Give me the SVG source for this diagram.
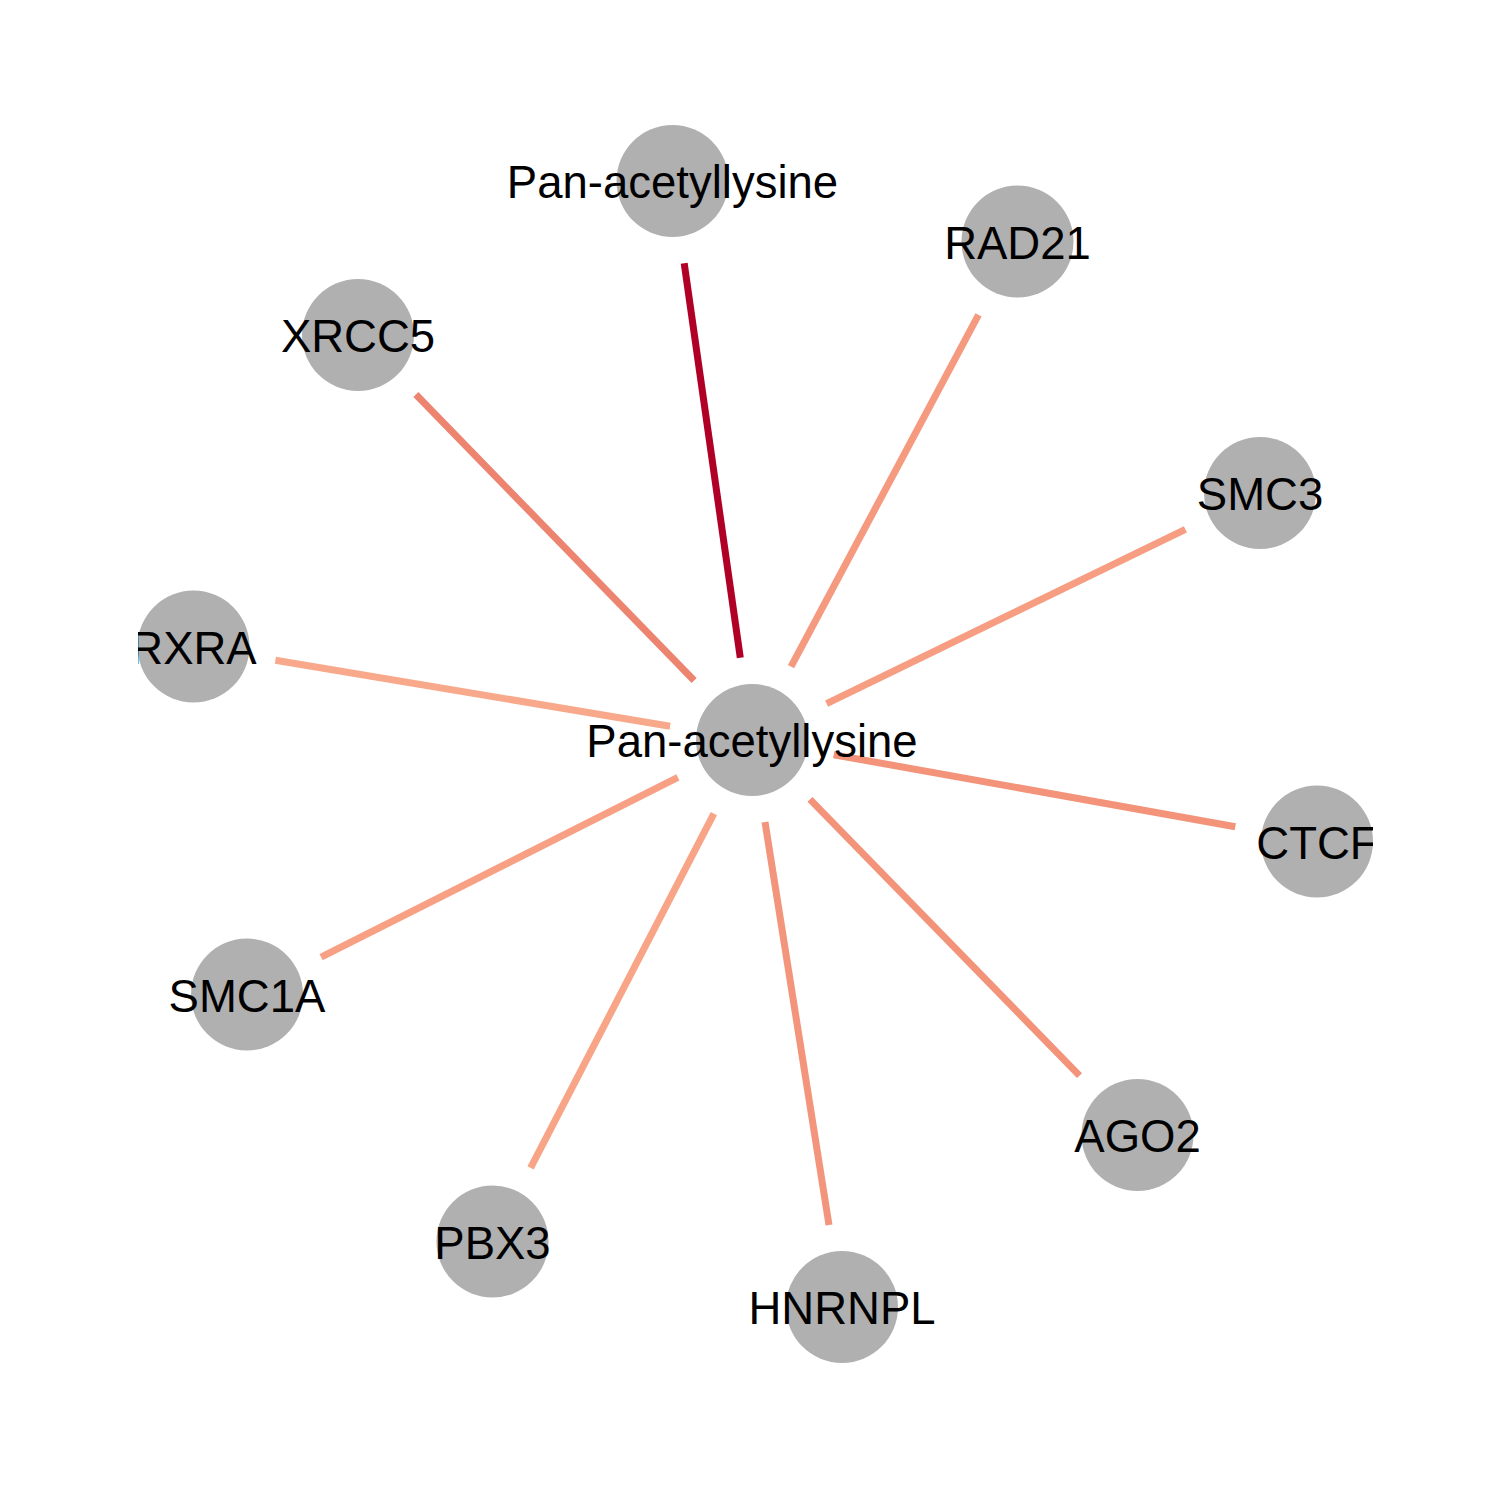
<svg xmlns="http://www.w3.org/2000/svg" width="1500" height="1500" viewBox="0 0 1500 1500">
<defs>
<style>
.e{stroke-width:7;fill:none;stroke-linecap:butt}
.n{fill:#B0B0B0}
.t{font-family:"Liberation Sans",Arial,sans-serif;font-size:45.5px;fill:#000;text-anchor:middle}
</style>
<clipPath id="clip"><rect x="138" y="0" width="1235" height="1500"/></clipPath>
</defs>
<rect width="1500" height="1500" fill="#fff"/>
<g id="edges">
<line class="e" x1="740.3" y1="657.8" x2="684.2" y2="263.2" stroke="#B10026"/>
<line class="e" x1="791.0" y1="666.7" x2="978.5" y2="314.8" stroke="#F5997F"/>
<line class="e" x1="826.6" y1="703.7" x2="1185.4" y2="529.3" stroke="#F69D82"/>
<line class="e" x1="833.7" y1="754.7" x2="1235.3" y2="826.8" stroke="#F3937A"/>
<line class="e" x1="810.0" y1="799.4" x2="1079.5" y2="1075.6" stroke="#F3937A"/>
<line class="e" x1="765.0" y1="822.0" x2="829.0" y2="1225.0" stroke="#F3957C"/>
<line class="e" x1="713.9" y1="813.7" x2="530.6" y2="1167.8" stroke="#F8A487"/>
<line class="e" x1="677.9" y1="777.4" x2="321.1" y2="957.1" stroke="#F7A084"/>
<line class="e" x1="670.1" y1="726.3" x2="275.4" y2="660.2" stroke="#F9A98B"/>
<line class="e" x1="694.1" y1="680.5" x2="415.9" y2="394.5" stroke="#EC8470"/>
</g>
<g clip-path="url(#clip)">
<g id="node-center"><circle class="n" cx="752" cy="740" r="56"/><text class="t" x="752" y="757">Pan-acetyllysine</text></g>
<g id="node-pan-top"><circle class="n" cx="672.5" cy="181" r="56"/><text class="t" x="672.5" y="198">Pan-acetyllysine</text></g>
<g id="node-RAD21"><circle class="n" cx="1017.5" cy="241.5" r="56"/><text class="t" x="1017.5" y="258.5">RAD21</text></g>
<g id="node-SMC3"><circle class="n" cx="1260" cy="493" r="56"/><text class="t" x="1260" y="510">SMC3</text></g>
<g id="node-CTCF"><circle class="n" cx="1317" cy="841.5" r="56"/><text class="t" x="1317" y="858.5">CTCF</text></g>
<g id="node-AGO2"><circle class="n" cx="1137.5" cy="1135" r="56"/><text class="t" x="1137.5" y="1152">AGO2</text></g>
<g id="node-HNRNPL"><circle class="n" cx="842" cy="1307" r="56"/><text class="t" x="842" y="1324">HNRNPL</text></g>
<g id="node-PBX3"><circle class="n" cx="492.5" cy="1241.5" r="56"/><text class="t" x="492.5" y="1258.5">PBX3</text></g>
<g id="node-SMC1A"><circle class="n" cx="247" cy="994.5" r="56"/><text class="t" x="247" y="1011.5">SMC1A</text></g>
<g id="node-RXRA"><circle class="n" cx="193.5" cy="646.5" r="56"/><text class="t" x="193.5" y="663.5">RXRA</text></g>
<g id="node-XRCC5"><circle class="n" cx="358" cy="335" r="56"/><text class="t" x="358" y="352">XRCC5</text></g>
</g>
</svg>
